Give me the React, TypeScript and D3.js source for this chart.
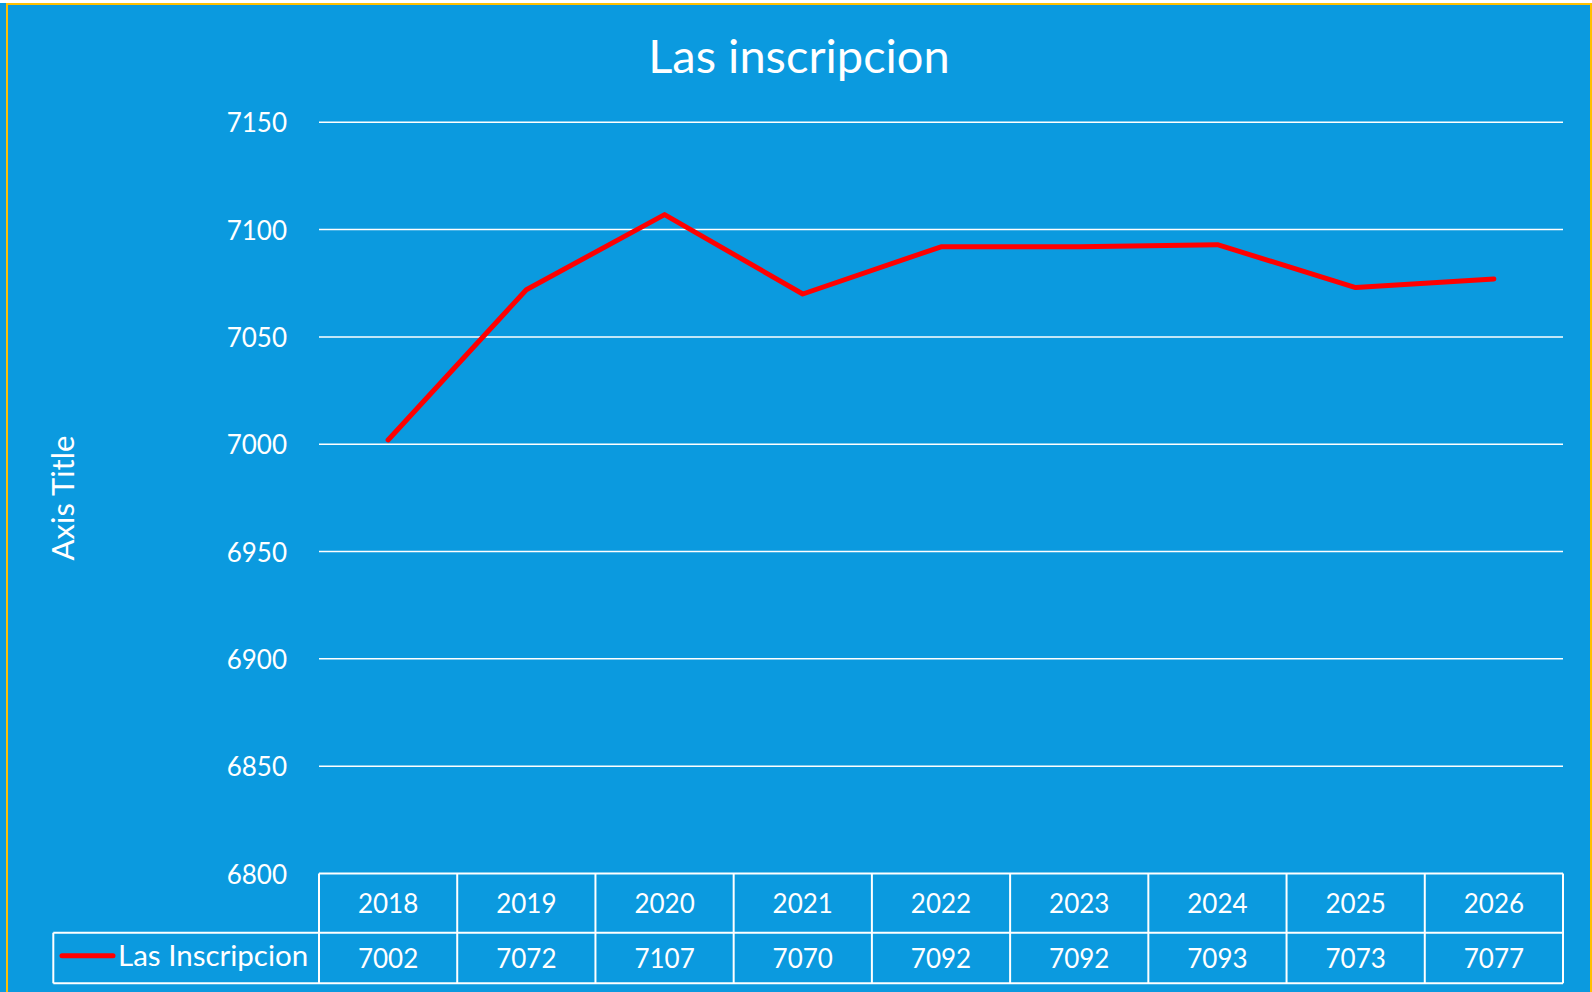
import type React from "react"
import { useEffect, useRef } from "react"
import * as d3 from "d3"

const years = ["2018", "2019", "2020", "2021", "2022", "2023", "2024", "2025", "2026"]
const inscripciones = [7002, 7072, 7107, 7070, 7092, 7092, 7093, 7073, 7077]
const yTicks = [6800, 6850, 6900, 6950, 7000, 7050, 7100, 7150]
const seriesName = "Las Inscripcion"
const chartTitle = "Las inscripcion"
const axisTitle = "Axis Title"

const BG = "#0b9adf"
const FONT = "Lato, 'Open Sans', sans-serif"

const App: React.FC = () => {
  const svgRef = useRef<SVGSVGElement | null>(null)
  const width = 1592
  const height = 992

  useEffect(() => {
    const svg = d3.select(svgRef.current).attr("width", width).attr("height", height)
    svg.selectAll("*").remove()

    svg.append("rect").attr("width", width).attr("height", height).attr("fill", BG)
    svg.append("rect").attr("width", width).attr("height", 3).attr("fill", "#ffffff")
    // outer frame
    svg.append("rect")
      .attr("x", 7).attr("y", 4)
      .attr("width", 1584).attr("height", 1000)
      .attr("fill", "none").attr("stroke", "#ffc000").attr("stroke-width", 2)

    const plot = { left: 319, right: 1563, top: 122.3, bottom: 873.5 }

    const x = d3.scaleBand<string>().domain(years).range([plot.left, plot.right])
    const y = d3.scaleLinear().domain([6800, 7150]).range([plot.bottom, plot.top])

    // title
    svg.append("text")
      .attr("x", 799).attr("y", 73)
      .attr("text-anchor", "middle")
      .attr("fill", "#fff")
      .style("font-family", FONT)
      .style("font-size", "47px")
      .text(chartTitle)

    // axis title
    svg.append("text")
      .attr("transform", "translate(74,498) rotate(-90)")
      .attr("text-anchor", "middle")
      .attr("fill", "#fff")
      .style("font-family", FONT)
      .style("font-size", "31px")
      .text(axisTitle)

    // gridlines
    svg.append("g")
      .selectAll("line")
      .data(yTicks.filter((t) => t !== 6800))
      .join("line")
      .attr("x1", plot.left).attr("x2", plot.right)
      .attr("y1", (d) => y(d)).attr("y2", (d) => y(d))
      .attr("stroke", "#fff").attr("stroke-width", 1.5)

    // y tick labels
    svg.append("g")
      .selectAll("text")
      .data(yTicks)
      .join("text")
      .attr("x", 287).attr("y", (d) => y(d) + 10)
      .attr("text-anchor", "end")
      .attr("fill", "#fff")
      .style("font-family", FONT)
      .style("font-size", "26px")
      .text((d) => d)

    // data table
    const rowMid = 932.7
    const tableBottom = 983.3
    const legendLeft = 53.3
    const table = svg.append("g").attr("stroke", "#fff").attr("stroke-width", 2).attr("fill", "none")
    table.append("line").attr("x1", plot.left).attr("x2", plot.right).attr("y1", plot.bottom).attr("y2", plot.bottom)
    table.append("line").attr("x1", legendLeft).attr("x2", plot.right).attr("y1", rowMid).attr("y2", rowMid)
    table.append("line").attr("x1", legendLeft).attr("x2", plot.right).attr("y1", tableBottom).attr("y2", tableBottom)
    table.append("line").attr("x1", legendLeft).attr("x2", legendLeft).attr("y1", rowMid).attr("y2", tableBottom)
    table.selectAll(".col")
      .data([...years.map((d) => x(d) ?? 0), plot.right])
      .join("line")
      .attr("class", "col")
      .attr("x1", (d) => d).attr("x2", (d) => d)
      .attr("y1", plot.bottom).attr("y2", tableBottom)

    svg.append("g")
      .selectAll("text")
      .data(years)
      .join("text")
      .attr("x", (d) => (x(d) ?? 0) + x.bandwidth() / 2)
      .attr("y", 913)
      .attr("text-anchor", "middle")
      .attr("fill", "#fff")
      .style("font-family", FONT)
      .style("font-size", "26px")
      .text((d) => d)

    svg.append("g")
      .selectAll("text")
      .data(inscripciones)
      .join("text")
      .attr("x", (_d, i) => (x(years[i]) ?? 0) + x.bandwidth() / 2)
      .attr("y", 968)
      .attr("text-anchor", "middle")
      .attr("fill", "#fff")
      .style("font-family", FONT)
      .style("font-size", "26px")
      .text((d) => d)

    // legend key
    svg.append("line")
      .attr("x1", 62).attr("x2", 113)
      .attr("y1", 955.7).attr("y2", 955.7)
      .attr("stroke", "#ff0000").attr("stroke-width", 5).attr("stroke-linecap", "round")
    svg.append("text")
      .attr("x", 118).attr("y", 966)
      .attr("fill", "#fff")
      .style("font-family", FONT)
      .style("font-size", "29.5px")
      .text(seriesName)

    // series line
    const line = d3.line<number>()
      .x((_d, i) => (x(years[i]) ?? 0) + x.bandwidth() / 2)
      .y((d) => y(d))

    svg.append("path")
      .datum(inscripciones)
      .attr("fill", "none")
      .attr("stroke", "#ff0000")
      .attr("stroke-width", 5)
      .attr("stroke-linecap", "round")
      .attr("stroke-linejoin", "round")
      .attr("d", line)
  }, [])

  return <svg ref={svgRef} style={{ position: "absolute", left: 0, top: 0 }}></svg>
}

export default App
